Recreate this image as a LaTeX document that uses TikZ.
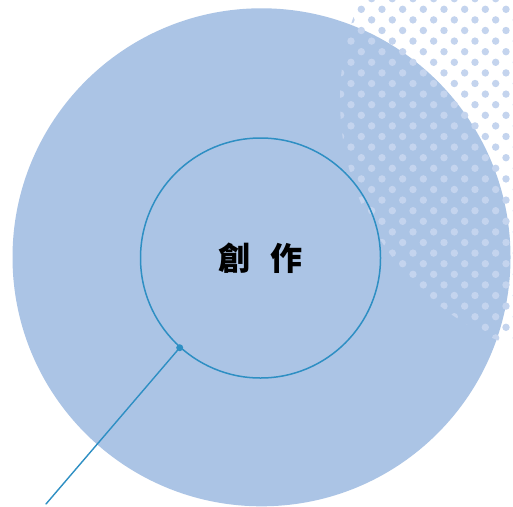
\documentclass[tikz,border=0pt]{standalone}
\usepackage{fontspec}
\newfontfamily\cjk{Noto Sans CJK TC}
\definecolor{bigc}{HTML}{ABC4E5}
\definecolor{dotc}{HTML}{C4D4EE}
\definecolor{linec}{HTML}{2E8FC3}
\begin{document}
\begin{tikzpicture}[x=1pt,y=-1pt,
  bigcircle/.style={circle,fill=bigc,draw=none,minimum size=498pt,inner sep=0pt},
  innercircle/.style={circle,draw=linec,line width=1.5pt,minimum size=240pt,inner sep=0pt},
  dotstyle/.style={fill=dotc},
  leader/.style={draw=linec,line width=1.4pt,line cap=round},
  title/.style={font=\cjk\bfseries\fontsize{32}{32}\selectfont,text=black}]
\fill[white] (0,0) rectangle (513,506);
\useasboundingbox (0,0) rectangle (513,506);
\node[bigcircle] (big) at (261.5,257.3) {};
\begin{scope}
  \clip (0,0) rectangle (513,506);
  \clip (602,100) circle[radius=262pt];
  \foreach \j in {-1,...,33} {
    \foreach \k in {-1,...,8} {
      \fill[dotstyle] ({361.3+20.67*\k+10.33*mod(\j+2,2)},{9.3+10.6*\j}) circle[radius=3.7pt];
    }
  }
\end{scope}
\node[innercircle] (inner) at (260.5,258) {};
\node[title] (label) at (inner.center) {創\hspace{20pt}作};
\coordinate (pin) at (inner.228.2);
\coordinate (tail) at (46,504);
\draw[leader] (pin) -- (tail);
\fill[linec] (pin) circle[radius=3.5pt];
\end{tikzpicture}
\end{document}
